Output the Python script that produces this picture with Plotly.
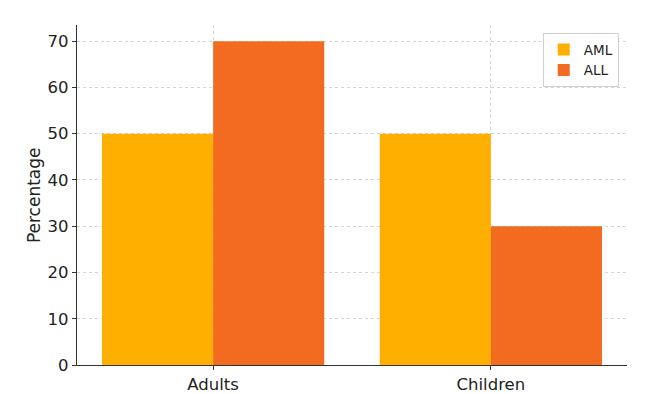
import plotly.graph_objects as go

categories = ["Adults", "Children"]
aml = [50, 50]
all_ = [70, 30]
y_ticks = [0, 10, 20, 30, 40, 50, 60, 70]

fig = go.Figure()
fig.add_trace(go.Bar(x=categories, y=aml, name="AML", marker=dict(color="#FFAF00", line=dict(width=0))))
fig.add_trace(go.Bar(x=categories, y=all_, name="ALL", marker=dict(color="#F26B21", line=dict(width=0))))

fig.update_layout(
    width=651, height=394,
    margin=dict(l=69, r=32, t=17, b=37, autoexpand=False),
    paper_bgcolor="white", plot_bgcolor="white",
    barmode="group", bargap=0.2, bargroupgap=0,
    font=dict(family="DejaVu Sans", size=16.5, color="#222"),
    legend=dict(x=0.985, y=0.976, xanchor="right", yanchor="top",
                bordercolor="#d0d0d0", borderwidth=1, bgcolor="white",
                font=dict(size=13.5), itemwidth=30, tracegroupgap=2),
    showlegend=True,
    annotations=[dict(text="Percentage", xref="paper", yref="paper", x=-0.078, y=0.5,
                      xanchor="center", yanchor="middle", textangle=-90, showarrow=False,
                      font=dict(size=17, color="#222"))],
)
fig.update_xaxes(range=[-0.49, 1.49], showline=True, linecolor="#333", linewidth=1.2,
                 ticks="outside", ticklen=4, tickcolor="#333",
                 showgrid=True, gridcolor="#d5d5d5", griddash="dot", gridwidth=0.8,
                 mirror=False, automargin=False)
fig.update_yaxes(range=[0, 73.5], tickvals=y_ticks, showline=True, linecolor="#333", linewidth=1.2,
                 ticks="outside", ticklen=4, tickcolor="#333",
                 showgrid=True, gridcolor="#d5d5d5", griddash="dot", gridwidth=0.8,
                 zeroline=False, automargin=False)

fig.write_html("out.html")
